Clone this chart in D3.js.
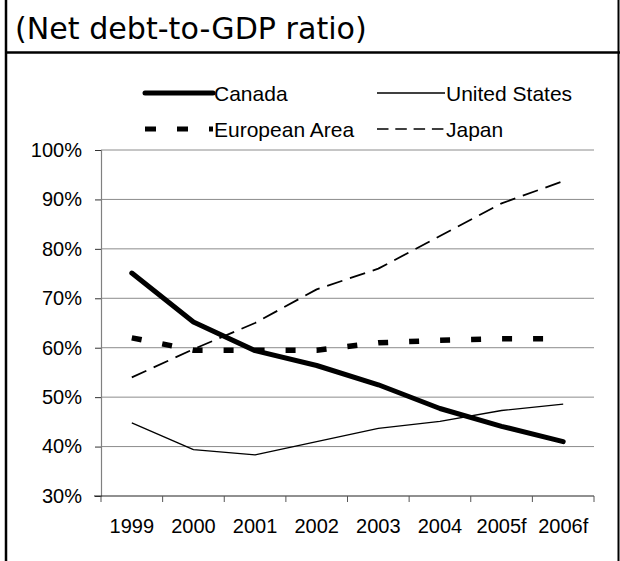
<!DOCTYPE html>
<html>
<head>
<meta charset="utf-8">
<script src="https://cdn.jsdelivr.net/npm/d3@7/dist/d3.min.js"></script>
<style>
  html, body { margin: 0; padding: 0; background: #fff; }
  svg { display: block; }
</style>
</head>
<body>
<svg id="chart" width="620" height="561"></svg>
<script>
// Net debt-to-GDP ratio, per cent
const years = ["1999", "2000", "2001", "2002", "2003", "2004", "2005f", "2006f"];
const canada = [75.1, 65.2, 59.4, 56.4, 52.5, 47.7, 44.1, 41.0];
const unitedStates = [44.8, 39.4, 38.3, 41.0, 43.7, 45.1, 47.3, 48.6];
const europeanArea = [62.0, 59.5, 59.5, 59.5, 61.0, 61.5, 61.8, 61.8];
const japan = [54.0, 59.7, 65.0, 71.8, 76.0, 82.6, 89.2, 93.7];
const yTicks = [30, 40, 50, 60, 70, 80, 90, 100];
const titleText = "(Net debt-to-GDP ratio)";

const seriesNames = ["Canada", "United States", "European Area", "Japan"];
const seriesValues = [canada, unitedStates, europeanArea, japan];

const styles = {
  "Canada":        { width: 5,   dash: null,        cap: "round", legendDash: null },
  "United States": { width: 1.3, dash: null,        cap: "butt",  legendDash: null },
  "European Area": { width: 5.5, dash: "10,21",     cap: "butt",  legendDash: "11,21" },
  "Japan":         { width: 1.8, dash: "16,8",      cap: "butt",  legendDash: "11.5,6.8" }
};

const FONT = "'Liberation Sans', Arial, sans-serif";
const svg = d3.select("#chart");

// frame and title band
svg.append("line").attr("x1", 6).attr("x2", 6).attr("y1", 0).attr("y2", 561)
  .attr("stroke", "#000").attr("stroke-width", 2.5);
svg.append("line").attr("x1", 618.5).attr("x2", 618.5).attr("y1", 0).attr("y2", 561)
  .attr("stroke", "#000").attr("stroke-width", 2);
svg.append("line").attr("x1", 6).attr("x2", 620).attr("y1", 52.5).attr("y2", 52.5)
  .attr("stroke", "#000").attr("stroke-width", 2.5);

const title = svg.append("text")
  .attr("x", 15).attr("y", 39)
  .attr("font-family", "'DejaVu Sans', Verdana, sans-serif")
  .attr("font-size", 30)
  .attr("fill", "#000")
  .text(titleText);
// fit the title to its width
const tw = title.node().getComputedTextLength();
title.attr("font-size", 30 * 352 / tw);

// scales
const x = d3.scaleBand().domain(years).range([101, 594]).paddingInner(0).paddingOuter(0);
const y = d3.scaleLinear().domain([30, 100]).range([496, 150]);
const cx = d => x(d) + x.bandwidth() / 2;

// gridlines
svg.append("g").selectAll("line").data(yTicks.filter(v => v > 30)).join("line")
  .attr("x1", 101).attr("x2", 594)
  .attr("y1", d => y(d)).attr("y2", d => y(d))
  .attr("stroke", "#8c8c8c").attr("stroke-width", 1);

// y axis
const yAxis = svg.append("g").attr("transform", "translate(101,0)")
  .call(d3.axisLeft(y).tickValues(yTicks).tickFormat(d => d + "%").tickSize(6).tickPadding(13));
yAxis.select(".domain").attr("stroke", "#808080").attr("stroke-width", 1.2);
yAxis.selectAll(".tick line").attr("stroke", "#333");
yAxis.selectAll("text").attr("font-family", FONT).attr("font-size", 20).attr("fill", "#000");

// x axis: labels under each category, ticks on category boundaries
const xAxis = svg.append("g").attr("transform", "translate(0,496)")
  .call(d3.axisBottom(x).tickSize(0).tickPadding(23));
xAxis.select(".domain").remove();
xAxis.selectAll("text").attr("font-family", FONT).attr("font-size", 20).attr("fill", "#000");

const bounds = years.map(d => x(d)).concat([x.range()[1]]);
svg.append("line").attr("x1", 94).attr("x2", 594).attr("y1", 496).attr("y2", 496)
  .attr("stroke", "#222").attr("stroke-width", 1.2);
svg.append("g").selectAll("line").data(bounds).join("line")
  .attr("x1", d => d).attr("x2", d => d)
  .attr("y1", 496).attr("y2", 502)
  .attr("stroke", "#555").attr("stroke-width", 1);

// series lines
const line = d3.line().x((v, i) => cx(years[i])).y(v => y(v));
const drawOrder = ["United States", "Japan", "European Area", "Canada"];
drawOrder.forEach(name => {
  const s = styles[name];
  const vals = seriesValues[seriesNames.indexOf(name)];
  svg.append("path")
    .datum(vals)
    .attr("d", line)
    .attr("fill", "none")
    .attr("stroke", "#000")
    .attr("stroke-width", s.width)
    .attr("stroke-linecap", s.cap)
    .attr("stroke-linejoin", "round")
    .attr("stroke-dasharray", s.dash);
});

// legend
const legendPos = [
  { x: 145, y: 93 }, { x: 377, y: 93 },
  { x: 145, y: 129 }, { x: 377, y: 129 }
];
seriesNames.forEach((name, i) => {
  const s = styles[name];
  const p = legendPos[i];
  svg.append("line")
    .attr("x1", p.x).attr("x2", p.x + 68)
    .attr("y1", p.y).attr("y2", p.y)
    .attr("stroke", "#000")
    .attr("stroke-width", name === "European Area" ? 5 : (name === "Japan" ? 1.6 : s.width))
    .attr("stroke-linecap", s.cap)
    .attr("stroke-dasharray", s.legendDash);
  svg.append("text")
    .attr("x", p.x + 69).attr("y", p.y)
    .attr("dy", "0.36em")
    .attr("font-family", FONT).attr("font-size", 21)
    .attr("fill", "#000")
    .text(name);
});
</script>
</body>
</html>
